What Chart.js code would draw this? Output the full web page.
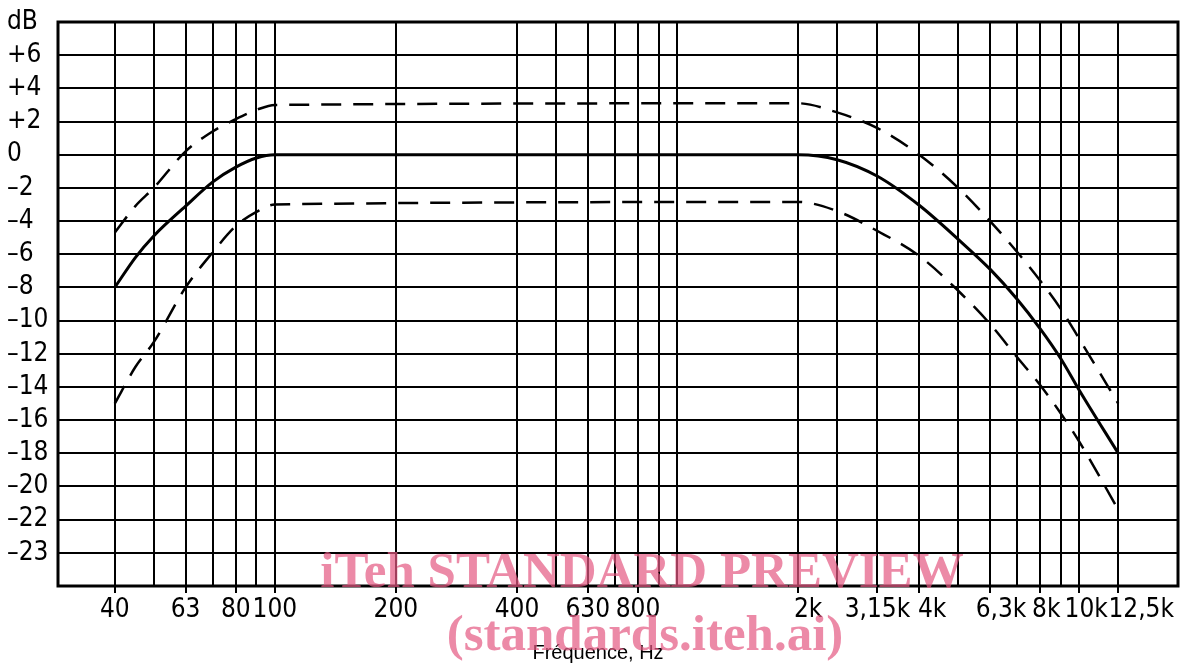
<!DOCTYPE html>
<html>
<head>
<meta charset="utf-8">
<title>Réponse en fréquence</title>
<script src="https://cdn.jsdelivr.net/npm/chart.js@4.4.1/dist/chart.umd.min.js"></script>
<style>
  html, body { margin: 0; padding: 0; background: #fff; }
  #wrap { width: 1181px; height: 667px; }
</style>
</head>
<body>
<div id="wrap"><canvas id="chart" width="1181" height="667"></canvas></div>
<script>
// vertical grid lines (Hz) and the labels printed under them
const gridFreqs = [40, 50, 60, 70, 80, 90, 100, 200, 400, 500, 600, 700, 800, 900, 1000,
  2000, 2500, 3150, 4000, 5000, 6000, 7000, 8000, 9000, 10000, 12500];
const freqLabels = ['40', '', '63', '', '80', '', '100', '200', '400', '', '630', '', '800', '', '',
  '2k', '', '3,15k', '4k', '', '6,3k', '', '8k', '', '10k', '12,5k'];

// horizontal grid lines (dB) and their labels
const dbTicks = [8, 6, 4, 2, 0, -2, -4, -6, -8, -10, -12, -14, -16, -18, -20, -22, -24, -26];
const dbLabels = ['dB', '+6', '+4', '+2', '0', '–2', '–4', '–6', '–8', '–10', '–12', '–14',
  '–16', '–18', '–20', '–22', '–23', ''];

// curves: nominal response and the upper / lower tolerance limits
const curveFreqs = [40, 45, 50, 60, 70, 80, 90, 100, 2000, 2500, 3150, 4000, 5000, 6000, 7000, 8000, 9000, 10000, 12500];
const nominalDb = [-8, -6.2, -4.9, -3.1, -1.65, -0.75, -0.2, 0, 0, -0.3, -1.3, -3.05, -5.1, -6.9, -8.7, -10.5, -12.3, -14.2, -18];
const upperDb = [-4.7, -3.1, -2.0, 0.2, 1.4, 2.15, 2.7, 3.0, 3.1, 2.55, 1.6, 0, -2.0, -4.0, -5.85, -7.6, -9.3, -11.1, -15];
const lowerDb = [-15, -12.8, -11.3, -8.0, -5.9, -4.3, -3.45, -3.0, -2.85, -3.4, -4.6, -6.1, -8.2, -10.2, -12.2, -13.9, -15.6, -17.3, -21.4];

const xCaption = 'Fréquence, Hz';
const watermark = ['iTeh STANDARD PREVIEW', '(standards.iteh.ai)'];

const tickFont = "'Liberation Sans Narrow', 'DejaVu Sans Condensed', 'DejaVu Sans', sans-serif";

// the kHz labels sit a little to the right of their lines in the drawing
const labelNudge = { '2k': 10, '4k': 13, '6,3k': 11, '8k': 6, '10k': 7, '12,5k': 23 };

function points(ys) {
  return curveFreqs.map((f, i) => ({ x: f, y: ys[i] }));
}

// frame round the plot, label nudges, caption and the pink watermark
const extrasPlugin = {
  id: 'extras',
  beforeDraw(chart) {
    const items = chart.scales.x.getLabelItems();
    items.forEach(item => {
      const dx = labelNudge[item.label];
      if (dx && !item.nudged) {
        item.options.translation[0] += dx;
        item.nudged = true;
      }
    });
  },
  beforeDatasetsDraw(chart) {
    const { ctx, chartArea: a } = chart;
    ctx.save();
    ctx.strokeStyle = '#000';
    ctx.lineWidth = 3;
    ctx.strokeRect(a.left, a.top, a.right - a.left, a.bottom - a.top);
    ctx.restore();
  },
  afterDraw(chart) {
    const { ctx } = chart;
    ctx.save();
    ctx.fillStyle = '#000';
    ctx.font = "20px 'Liberation Sans', Arial, sans-serif";
    ctx.textAlign = 'center';
    ctx.textBaseline = 'alphabetic';
    ctx.fillText(xCaption, 598, 659);

    ctx.fillStyle = 'rgba(228, 88, 130, 0.7)';
    ctx.font = "bold 51px 'Liberation Serif', 'Times New Roman', serif";
    ctx.fillText(watermark[0], 642, 587);
    ctx.fillText(watermark[1], 645, 650);
    ctx.restore();
  }
};

const ctx = document.getElementById('chart').getContext('2d');
new Chart(ctx, {
  type: 'line',
  data: {
    datasets: [
      {
        label: 'Limite supérieure',
        data: points(upperDb),
        borderColor: '#000',
        borderWidth: 2.5,
        borderDash: [20, 12],
        pointRadius: 0,
        cubicInterpolationMode: 'monotone'
      },
      {
        label: 'Nominal',
        data: points(nominalDb),
        borderColor: '#000',
        borderWidth: 3,
        pointRadius: 0,
        cubicInterpolationMode: 'monotone'
      },
      {
        label: 'Limite inférieure',
        data: points(lowerDb),
        borderColor: '#000',
        borderWidth: 2.5,
        borderDash: [20, 12],
        pointRadius: 0,
        cubicInterpolationMode: 'monotone'
      }
    ]
  },
  options: {
    responsive: false,
    animation: false,
    devicePixelRatio: 1,
    layout: { padding: { left: 7, top: 22, right: 3, bottom: 0 } },
    plugins: {
      legend: { display: false },
      tooltip: { enabled: false }
    },
    scales: {
      x: {
        type: 'logarithmic',
        min: 28.9,
        max: 17600,
        afterBuildTicks: scale => {
          scale.ticks = gridFreqs.map(v => ({ value: v }));
        },
        afterFit: scale => { scale.height = 81; },
        border: { display: false },
        grid: {
          color: '#000',
          lineWidth: 2,
          drawTicks: true,
          tickLength: 7,
          tickWidth: 2,
          tickColor: c => (freqLabels[c.index] ? '#000' : 'rgba(0,0,0,0)')
        },
        ticks: {
          autoSkip: false,
          maxRotation: 0,
          padding: 2,
          color: '#000',
          font: { family: tickFont, size: 26 },
          callback: (value, index) => freqLabels[index]
        }
      },
      y: {
        type: 'linear',
        min: -26,
        max: 8,
        afterBuildTicks: scale => {
          scale.ticks = dbTicks.map(v => ({ value: v }));
        },
        afterFit: scale => { scale.width = 51; },
        border: { display: false },
        grid: {
          color: '#000',
          lineWidth: 2,
          drawTicks: false
        },
        ticks: {
          autoSkip: false,
          crossAlign: 'far',
          padding: 0,
          color: '#000',
          font: { family: tickFont, size: 26 },
          callback: value => dbLabels[dbTicks.indexOf(value)]
        }
      }
    }
  },
  plugins: [extrasPlugin]
});
</script>
</body>
</html>
